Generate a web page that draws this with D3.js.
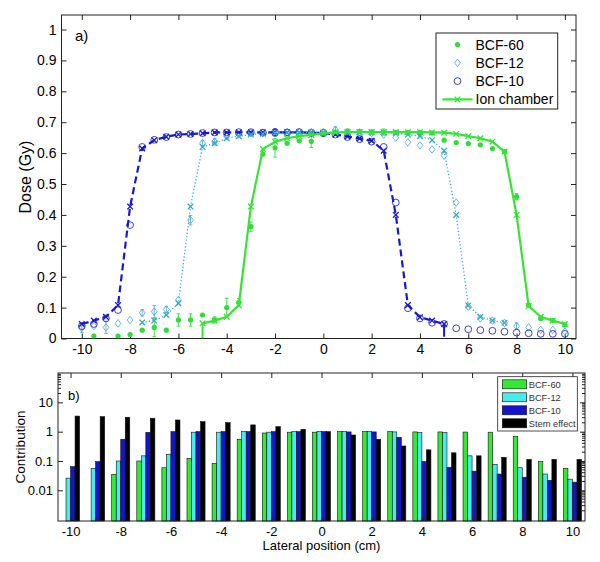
<!DOCTYPE html>
<html><head><meta charset="utf-8">
<script src="https://cdn.jsdelivr.net/npm/d3@7"></script>
<style>body{margin:0;background:#fff;} text{font-family:"Liberation Sans",Arial,sans-serif;fill:#000;}</style>
</head><body><svg id="c" width="600" height="562"></svg>
<script>
// ---------- DATA: panel a) ----------
const posHalf = [-10,-9.5,-9,-8.5,-8,-7.5,-7,-6.5,-6,-5.5,-5,-4.5,-4,-3.5,-3,-2.5,-2,-1.5,-1,-0.5,0,0.5,1,1.5,2,2.5,3,3.5,4,4.5,5,5.5,6,6.5,7,7.5,8,8.5,9,9.5,10];

const bcf60X = [-9.5,-8.5,-8,-7.5,-7,-6.5,-6,-5.5,-5,-4.5,-4,-3.5,-3,-2.5,-2,-1.5,-1,-0.5,0,0.5,1,1.5,2,2.5,3,3.5,4,4.5,5,5.5,6,6.5,7,7.5,8,8.5,9,9.5,10];
const bcf60Y = [0.008,0.008,0.013,0.027,0.036,0.027,0.06,0.06,0.076,0.06,0.10,0.117,0.362,0.597,0.617,0.632,0.64,0.638,0.66,0.668,0.668,0.67,0.668,0.668,0.667,0.667,0.667,0.665,0.642,0.634,0.631,0.627,0.615,0.605,0.459,0.108,0.065,0.058,0.044];
const bcf60Err = [0.006,0,0,0,0.03,0,0.02,0.02,0,0.01,0.03,0.012,0.015,0,0.03,0,0,0.02,0,0,0.01,0,0,0.01,0,0,0,0,0,0,0,0,0,0,0.01,0,0,0,0];

const bcf12Y = [0.034,0.04,0.036,0.049,0.06,0.083,0.087,0.094,0.125,0.383,0.632,0.637,0.655,0.66,0.664,0.666,0.667,0.667,0.668,0.668,0.668,0.675,0.667,0.667,0.665,0.66,0.65,0.635,0.625,0.612,0.592,0.44,0.103,0.065,0.058,0.05,0.04,0.036,0.028,0.028,0.022];
const bcf12Err = [0.015,0,0.02,0,0,0.01,0.02,0.01,0,0.015,0.01,0.01,0,0,0,0,0,0,0,0,0,0.01,0.01,0,0,0,0,0,0,0,0,0,0,0,0,0,0.01,0,0,0,0];

const bcf10Y = [0.04,0.047,0.065,0.092,0.367,0.62,0.643,0.652,0.66,0.662,0.665,0.667,0.667,0.668,0.668,0.666,0.667,0.667,0.668,0.665,0.665,0.66,0.652,0.645,0.637,0.62,0.44,0.098,0.065,0.051,0.047,0.033,0.03,0.027,0.025,0.022,0.019,0.017,0.015,0.015,0.015];
const bcf10Err = [0,0,0,0,0,0,0,0,0,0,0,0,0,0,0,0,0.012,0,0,0,0,0,0,0,0,0,0,0,0,0,0,0,0,0,0,0,0,0,0,0,0];

const ionBlueX = [-10,-9.5,-9,-8.5,-8,-7.5,-7,-6.5,-6,-5.5,-5,-4.5,-4,-3.5,-3,-2.5,-2,-1.5,-1,-0.5,0,0.5,1,1.5,2,2.5,3,3.5,4,4.5,5];
const ionBlueY = [0.047,0.058,0.07,0.108,0.427,0.615,0.642,0.653,0.66,0.662,0.664,0.667,0.667,0.667,0.667,0.667,0.667,0.667,0.667,0.666,0.665,0.66,0.654,0.647,0.64,0.608,0.40,0.108,0.069,0.058,0.047];
const ionCyanX = [-7.5,-7,-6.5,-6,-5.5,-5,-4.5,-4,-3.5,-3,-2.5,-2,-1.5,-1,-0.5,0,0.5,1,1.5,2,2.5,3,3.5,4,4.5,5,5.5,6,6.5,7,7.5];
const ionCyanY = [0.052,0.058,0.076,0.114,0.427,0.62,0.632,0.648,0.655,0.66,0.663,0.665,0.667,0.667,0.667,0.667,0.667,0.667,0.667,0.667,0.667,0.665,0.66,0.655,0.642,0.608,0.40,0.107,0.07,0.058,0.051];
const ionGreenX = [-5,-4.5,-4,-3.5,-3,-2.5,-2,-1.5,-1,-0.5,0,0.5,1,1.5,2,2.5,3,3.5,4,4.5,5,5.5,6,6.5,7,7.5,8,8.5,9,9.5,10];
const ionGreenY = [0.049,0.058,0.07,0.108,0.427,0.613,0.637,0.648,0.655,0.659,0.664,0.667,0.668,0.668,0.668,0.668,0.668,0.668,0.668,0.667,0.666,0.662,0.655,0.648,0.637,0.605,0.40,0.105,0.07,0.058,0.047];
// vertical end segments of the ion chamber curves
const ionDropX = [-5, 5];
const ionDropFrom = [0.049, 0.047];
const ionDropTo = [0, 0.006];

const yTicksA = [0,0.1,0.2,0.3,0.4,0.5,0.6,0.7,0.8,0.9,1];
const xTicks = [-10,-8,-6,-4,-2,0,2,4,6,8,10];

// ---------- DATA: panel b) ----------
const barPos = [-10,-9,-8,-7,-6,-5,-4,-3,-2,-1,0,1,2,3,4,5,6,7,8,9,10];
const contribBCF60 = [null,null,0.035,0.10,0.059,0.123,0.083,0.55,0.90,0.96,0.96,1.0,1.0,1.0,0.98,0.98,0.97,0.96,0.68,0.095,0.056];
const contribBCF12 = [0.026,0.056,0.10,0.15,0.17,0.96,0.96,1.0,0.96,1.0,1.0,1.0,1.0,0.98,0.93,0.93,0.15,0.077,0.059,0.036,0.024];
const contribBCF10 = [0.064,0.095,0.55,0.95,1.0,1.0,1.0,1.0,1.0,1.0,1.0,0.98,0.98,0.64,0.095,0.061,0.045,0.036,0.028,0.022,0.019];
const contribStem  = [3.4,3.25,3.1,2.87,2.5,2.2,2.03,1.7,1.48,1.2,1.0,0.77,0.55,0.325,0.24,0.19,0.15,0.134,0.114,0.114,0.114];
const barSeriesNames = ["BCF-60","BCF-12","BCF-10","Stem effect"];
const yTicksB = [0.01,0.1,1,10];

// ---------- styles ----------
const cGreen = "#33e633", cGreenDot = "#2fdc3a", cDiamond = "#5aaed2", cCircle = "#2a2ac4";
const cIonBlue = "#1717cf", cIonCyan = "#35a9c9";
const barColors = ["#35e835","#44ecec","#1414cc","#000000"];
const fmtTick = d => String(d);

const svg = d3.select("#c");

// ================= Panel a =================
const xA = d3.scaleLinear().domain([-10.84, 10.46]).range([61.5, 576]);
const yA = d3.scaleLinear().domain([0, 1.047]).range([338.5, 15]);
const gA = svg.append("g");

function axisStyle(g){ g.select(".domain").remove(); g.selectAll("line").attr("stroke","#222"); g.selectAll("text").attr("fill","#000"); }

gA.append("g").attr("transform","translate(0,338.5)")
  .call(d3.axisBottom(xA).tickValues(xTicks).tickSize(-5).tickPadding(6).tickFormat(fmtTick))
  .call(axisStyle).selectAll("text").style("font-size","14px");
gA.append("g").attr("transform","translate(0,15)")
  .call(d3.axisTop(xA).tickValues(xTicks).tickSize(-5).tickFormat(""))
  .call(axisStyle);
gA.append("g").attr("transform","translate(61.5,0)")
  .call(d3.axisLeft(yA).tickValues(yTicksA).tickSize(-5).tickPadding(5).tickFormat(d=>String(+d.toFixed(1))))
  .call(axisStyle).selectAll("text").style("font-size","14px");
gA.append("g").attr("transform","translate(576,0)")
  .call(d3.axisRight(yA).tickValues(yTicksA).tickSize(-5).tickFormat(""))
  .call(axisStyle);
gA.append("rect").attr("x",61.5).attr("y",15).attr("width",576-61.5).attr("height",338.5-15)
  .attr("fill","none").attr("stroke","#222").attr("stroke-width",1);

// error bars helper
function errBars(g, xs, ys, es, color){
  xs.forEach((x,i)=>{
    const e = es[i]; if(!e) return;
    const lo = Math.max(0, ys[i]-e), hi = ys[i]+e;
    const px = xA(x);
    g.append("line").attr("x1",px).attr("x2",px).attr("y1",yA(lo)).attr("y2",yA(hi)).attr("stroke",color).attr("stroke-width",0.9);
    [lo,hi].forEach(v=>{ if(v>0) g.append("line").attr("x1",px-1.8).attr("x2",px+1.8).attr("y1",yA(v)).attr("y2",yA(v)).attr("stroke",color).attr("stroke-width",0.9); });
  });
}
svg.append("clipPath").attr("id","clipA").append("rect").attr("x",61.5).attr("y",15).attr("width",576-61.5).attr("height",338.5-15);
const plotA = gA.append("g").attr("clip-path","url(#clipA)");

// BCF-60 dots
errBars(plotA, bcf60X, bcf60Y, bcf60Err, cGreenDot);
plotA.selectAll(".d60").data(bcf60X.map((x,i)=>[x,bcf60Y[i]])).enter().append("circle")
  .attr("cx",d=>xA(d[0])).attr("cy",d=>yA(d[1])).attr("r",2.6).attr("fill",cGreenDot);
// BCF-12 diamonds
errBars(plotA, posHalf, bcf12Y, bcf12Err, cDiamond);
const diamond = (cx,cy)=>`M${cx},${cy-3.8}L${cx+2.9},${cy}L${cx},${cy+3.8}L${cx-2.9},${cy}Z`;
plotA.selectAll(".d12").data(posHalf.map((x,i)=>[x,bcf12Y[i]])).enter().append("path")
  .attr("d",d=>diamond(xA(d[0]),yA(d[1]))).attr("fill","none").attr("stroke",cDiamond).attr("stroke-width",0.9);
// BCF-10 circles
errBars(plotA, posHalf, bcf10Y, bcf10Err, cCircle);
plotA.selectAll(".d10").data(posHalf.map((x,i)=>[x,bcf10Y[i]])).enter().append("circle")
  .attr("cx",d=>xA(d[0])).attr("cy",d=>yA(d[1])).attr("r",3.4).attr("fill","none").attr("stroke",cCircle).attr("stroke-width",0.9);

// ion chamber curves
const line = d3.line().x(d=>xA(d[0])).y(d=>yA(d[1]));
function xMark(g, pts, color, sw){
  const s = 2.8;
  pts.forEach(d=>{
    const px=xA(d[0]), py=yA(d[1]);
    g.append("path").attr("d",`M${px-s},${py-s}L${px+s},${py+s}M${px-s},${py+s}L${px+s},${py-s}`)
      .attr("stroke",color).attr("stroke-width",sw).attr("fill","none");
  });
}
const ionSeries = [
  {x:ionBlueX, y:ionBlueY, color:cIonBlue, w:2.2, dash:"7,4"},
  {x:ionCyanX, y:ionCyanY, color:cIonCyan, w:1.3, dash:"1.2,2.2"},
  {x:ionGreenX, y:ionGreenY, color:cGreen, w:2.2, dash:null}
];
plotA.append("line").attr("x1",xA(ionDropX[1])).attr("x2",xA(ionDropX[1])).attr("y1",yA(ionDropFrom[1])).attr("y2",yA(ionDropTo[1])).attr("stroke",cIonBlue).attr("stroke-width",2);
ionSeries.forEach(s=>{
  const pts = s.x.map((x,i)=>[x,s.y[i]]);
  plotA.append("path").datum(pts).attr("d",line).attr("fill","none").attr("stroke",s.color)
    .attr("stroke-width",s.w).attr("stroke-dasharray",s.dash);
  xMark(plotA, pts, s.color, 1.3);
});
plotA.append("line").attr("x1",xA(ionDropX[0])).attr("x2",xA(ionDropX[0])).attr("y1",yA(ionDropFrom[0])).attr("y2",yA(ionDropTo[0])).attr("stroke",cGreen).attr("stroke-width",2);

// labels
gA.append("text").attr("x",75).attr("y",40.5).style("font-size","15px").text("a)");
gA.append("text").attr("transform","translate(31,177) rotate(-90)").attr("text-anchor","middle").style("font-size","16px").text("Dose (Gy)");

// legend a
const lgA = gA.append("g");
lgA.append("rect").attr("x",436).attr("y",33).attr("width",121.7).attr("height",76).attr("fill","#fff").attr("stroke","#222").attr("stroke-width",1);
const legRows = [44.5, 62.8, 81.1, 99.4];
const legNames = ["BCF-60","BCF-12","BCF-10","Ion chamber"];
lgA.append("circle").attr("cx",457.5).attr("cy",legRows[0]).attr("r",2.6).attr("fill",cGreenDot);
lgA.append("path").attr("d",diamond(457.5,legRows[1])).attr("fill","none").attr("stroke",cDiamond).attr("stroke-width",0.9);
lgA.append("circle").attr("cx",457.5).attr("cy",legRows[2]).attr("r",3.4).attr("fill","none").attr("stroke",cCircle).attr("stroke-width",0.9);
lgA.append("line").attr("x1",442.5).attr("x2",472.5).attr("y1",legRows[3]).attr("y2",legRows[3]).attr("stroke",cGreen).attr("stroke-width",2.2);
lgA.append("path").attr("d",`M454.7,${legRows[3]-2.8}L460.3,${legRows[3]+2.8}M454.7,${legRows[3]+2.8}L460.3,${legRows[3]-2.8}`).attr("stroke",cGreen).attr("stroke-width",1.3);
legNames.forEach((n,i)=>lgA.append("text").attr("x",475.5).attr("y",legRows[i]+5).style("font-size","14px").text(n));

// ================= Panel b =================
const xB = d3.scaleLinear().domain([-10.5,10.5]).range([58,585]);
const yB = d3.scaleLog().domain([0.0009,100]).range([521,373]);
const gB = svg.append("g");

const unit = xB(1)-xB(0);
const offsets = [-0.27,-0.09,0.09,0.27];
const bw = 0.18*unit;
const barData = [contribBCF60, contribBCF12, contribBCF10, contribStem];
barData.forEach((arr,s)=>{
  gB.selectAll(".b"+s).data(barPos.map((p,i)=>[p,arr[i]]).filter(d=>d[1]!=null)).enter().append("rect")
    .attr("x",d=>xB(d[0]+offsets[s])-bw/2).attr("width",bw)
    .attr("y",d=>yB(d[1])).attr("height",d=>521-yB(d[1]))
    .attr("fill",barColors[s]).attr("stroke","#111").attr("stroke-width",0.6);
});

gB.append("g").attr("transform","translate(0,521)")
  .call(d3.axisBottom(xB).tickValues(xTicks).tickSize(-5).tickPadding(5.5).tickFormat(fmtTick))
  .call(axisStyle).selectAll("text").style("font-size","13px");
gB.append("g").attr("transform","translate(0,373)")
  .call(d3.axisTop(xB).tickValues(xTicks).tickSize(-5).tickFormat(""))
  .call(axisStyle);
gB.append("g").attr("transform","translate(58,0)")
  .call(d3.axisLeft(yB).tickValues(yTicksB).tickSize(-5).tickPadding(5).tickFormat(d=>String(d)))
  .call(axisStyle).selectAll("text").style("font-size","13px");
gB.append("g").attr("transform","translate(585,0)")
  .call(d3.axisRight(yB).tickValues(yTicksB).tickSize(-5).tickFormat(""))
  .call(axisStyle);
// minor ticks
const minorTop = [20,30,40,50,60,70,80,90];
const minorAll = [];
[0.001,0.01,0.1,1,10].forEach(dec=>[2,3,4,5,6,7,8,9].forEach(k=>{ const v=dec*k; if(v>=0.0009 && v<100) minorAll.push(v); }));
minorTop.forEach(v=>gB.append("line").attr("x1",58).attr("x2",61).attr("y1",yB(v)).attr("y2",yB(v)).attr("stroke","#222"));
minorAll.forEach(v=>gB.append("line").attr("x1",585).attr("x2",582).attr("y1",yB(v)).attr("y2",yB(v)).attr("stroke","#222"));
gB.append("rect").attr("x",58).attr("y",373).attr("width",585-58).attr("height",521-373)
  .attr("fill","none").attr("stroke","#222").attr("stroke-width",1);

gB.append("text").attr("x",68).attr("y",399.5).style("font-size","13px").text("b)");
gB.append("text").attr("transform","translate(25,447) rotate(-90)").attr("text-anchor","middle").style("font-size","13.5px").text("Contribution");
gB.append("text").attr("x",321.5).attr("y",550).attr("text-anchor","middle").style("font-size","13px").text("Lateral position (cm)");

// legend b
const lgB = gB.append("g");
lgB.append("rect").attr("x",497.7).attr("y",376.7).attr("width",79.6).attr("height",54.3).attr("fill","#fff").attr("stroke","#222").attr("stroke-width",0.8);
const rowsB = [384.3,397.3,410.3,423.3];
barSeriesNames.forEach((n,i)=>{
  lgB.append("rect").attr("x",502.3).attr("y",rowsB[i]-4.5).attr("width",24.4).attr("height",9)
    .attr("fill",barColors[i]).attr("stroke","#111").attr("stroke-width",0.6);
  lgB.append("text").attr("x",528.7).attr("y",rowsB[i]+3.6).style("font-size","9.3px").style("fill","#333").text(n);
});
</script>
</body></html>
